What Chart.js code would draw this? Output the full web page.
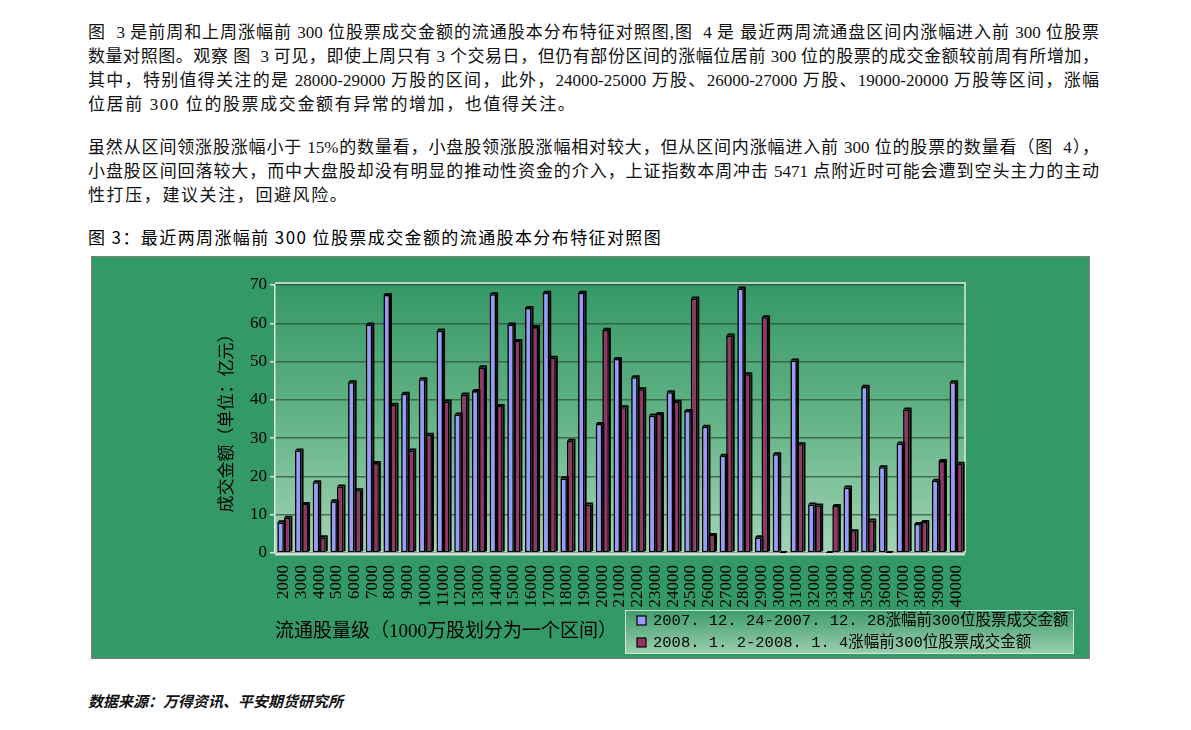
<!DOCTYPE html>
<html lang="zh-CN">
<head>
<meta charset="UTF-8">
<title>图3 流通股本分布特征对照图</title>
<script src="https://cdn.jsdelivr.net/npm/chart.js@4.4.0/dist/chart.umd.min.js"></script>
<style>
    body {
        margin: 0;
        background: #fff;
        width: 1191px;
        height: 730px;
        position: relative;
        overflow: hidden;
        color: #111;
    }
    .parrafo {
        position: absolute;
        left: 88px;
        width: 1011px;
        font-family: 'Liberation Serif', 'Noto Sans CJK SC', serif;
        font-size: 17px;
        line-height: 24px;
    }
    .parrafo div {
        text-align: justify;
        text-align-last: justify;
    }
    .parrafo div.ultima {
        text-align: left;
        text-align-last: left;
        letter-spacing: 1.6px;
    }
    #titulo {
        position: absolute;
        left: 88px;
        top: 225px;
        font-family: 'Noto Sans CJK SC', sans-serif;
        font-size: 17px;
        font-weight: 400;
        letter-spacing: 1.4px;
        line-height: 24px;
        color: #000;
    }
    #fuente {
        position: absolute;
        left: 88px;
        top: 691px;
        font-family: 'Noto Sans CJK SC', sans-serif;
        font-size: 15px;
        font-style: italic;
        font-weight: 600;
        line-height: 20px;
    }
    #contenedor {
        position: absolute;
        left: 91px;
        top: 256px;
    }
</style>
</head>
<body>
<div class="parrafo" style="top:21px">
    <div>图&nbsp; 3 是前周和上周涨幅前 300 位股票成交金额的流通股本分布特征对照图,图&nbsp; 4 是 最近两周流通盘区间内涨幅进入前 300 位股票</div>
    <div>数量对照图。观察 图&nbsp; 3 可见，即使上周只有 3 个交易日，但仍有部份区间的涨幅位居前 300 位的股票的成交金额较前周有所增加，</div>
    <div>其中，特别值得关注的是 28000-29000 万股的区间，此外，24000-25000 万股、26000-27000 万股、19000-20000 万股等区间，涨幅</div>
    <div class="ultima">位居前 300 位的股票成交金额有异常的增加，也值得关注。</div>
</div>
<div class="parrafo" style="top:136px">
    <div>虽然从区间领涨股涨幅小于 15%的数量看，小盘股领涨股涨幅相对较大，但从区间内涨幅进入前 300 位的股票的数量看（图&nbsp; 4），</div>
    <div>小盘股区间回落较大，而中大盘股却没有明显的推动性资金的介入，上证指数本周冲击 5471 点附近时可能会遭到空头主力的主动</div>
    <div class="ultima">性打压，建议关注，回避风险。</div>
</div>
<div id="titulo">图 3：最近两周涨幅前 300 位股票成交金额的流通股本分布特征对照图</div>
<div id="contenedor">
    <canvas id="grafico" width="999" height="403"></canvas>
</div>
<div id="fuente">数据来源：万得资讯、平安期货研究所</div>

<script>
// Datos del gráfico
const categorias = ['2000', '3000', '4000', '5000', '6000', '7000', '8000', '9000', '10000',
    '11000', '12000', '13000', '14000', '15000', '16000', '17000', '18000', '19000', '20000',
    '21000', '22000', '23000', '24000', '25000', '26000', '27000', '28000', '29000', '30000',
    '31000', '32000', '33000', '34000', '35000', '36000', '37000', '38000', '39000', '40000'];

const semanaAnterior = [8.0, 26.8, 18.5, 13.5, 44.6, 59.7, 67.4, 41.6, 45.4,
    58.1, 36.2, 42.3, 67.6, 59.7, 64.0, 68.0, 19.5, 68.0, 33.7,
    50.7, 45.9, 35.9, 42.0, 37.1, 33.0, 25.4, 69.1, 4.1, 25.8,
    50.3, 12.7, 0, 17.1, 43.4, 22.4, 28.6, 7.6, 18.9, 44.6];

const semanaActual = [9.2, 12.8, 4.1, 17.4, 16.4, 23.5, 38.7, 26.8, 30.9,
    39.6, 41.4, 48.5, 38.4, 55.4, 59.0, 51.0, 29.3, 12.7, 58.3,
    38.1, 42.8, 36.3, 39.5, 66.5, 4.7, 56.8, 46.7, 61.6, 0,
    28.4, 12.4, 12.3, 5.7, 8.5, 0, 37.5, 8.1, 24.0, 23.3];

const ticksY = [0, 10, 20, 30, 40, 50, 60, 70];

const nombresSeries = ['2007. 12. 24-2007. 12. 28涨幅前300位股票成交金额', '2008. 1. 2-2008. 1. 4涨幅前300位股票成交金额'];
const tituloX = '流通股量级（1000万股划分为一个区间）';
const tituloY = '成交金额（单位：亿元）';

const fuenteGrafico = "'Liberation Serif', 'Noto Sans CJK SC', serif";
const fuenteLeyenda = "'Liberation Mono', 'Noto Sans CJK SC', monospace";

// Fondo verde y pared del área de trazado
const fondoGrafico = {
    id: 'fondoGrafico',
    beforeDraw(chart) {
        const { ctx, chartArea: a, width, height } = chart;
        ctx.save();
        ctx.fillStyle = '#339966';
        ctx.fillRect(0, 0, width, height);
        ctx.strokeStyle = '#7f7f7f';
        ctx.lineWidth = 1;
        ctx.strokeRect(0.5, 0.5, width - 1, height - 1);

        const g = ctx.createLinearGradient(0, a.top, 0, a.bottom);
        g.addColorStop(0, '#369867');
        g.addColorStop(0.5, '#63b386');
        g.addColorStop(1, '#a2d4b6');
        ctx.fillStyle = g;
        ctx.fillRect(a.left, a.top - 2, a.right - a.left, a.bottom - a.top + 2);
        ctx.restore();
    },
    beforeDatasetsDraw(chart) {
        const { ctx, chartArea: a } = chart;
        ctx.save();
        // Borde claro de la pared (arriba y derecha)
        ctx.strokeStyle = '#dfe9e3';
        ctx.lineWidth = 1.5;
        ctx.beginPath();
        ctx.moveTo(a.left, a.top - 2);
        ctx.lineTo(a.right, a.top - 2);
        ctx.lineTo(a.right, a.bottom);
        ctx.stroke();
        // Suelo
        ctx.strokeStyle = '#d6dcd8';
        ctx.lineWidth = 3;
        ctx.beginPath();
        ctx.moveTo(a.left, a.bottom + 1);
        ctx.lineTo(a.right, a.bottom + 1);
        ctx.stroke();
        ctx.restore();
    }
};

// Efecto 3D simple: tapa y lateral oscuro en cada barra
const barras3D = {
    id: 'barras3D',
    afterDatasetsDraw(chart) {
        const { ctx } = chart;
        const d = 2;
        ctx.save();
        chart.data.datasets.forEach((ds, i) => {
            chart.getDatasetMeta(i).data.forEach(bar => {
                const izq = bar.x - bar.width / 2;
                const der = bar.x + bar.width / 2;
                ctx.fillStyle = '#000';
                // tapa
                ctx.beginPath();
                ctx.moveTo(izq, bar.y);
                ctx.lineTo(izq + d, bar.y - d);
                ctx.lineTo(der + d, bar.y - d);
                ctx.lineTo(der, bar.y);
                ctx.closePath();
                ctx.fill();
                // lateral
                ctx.beginPath();
                ctx.moveTo(der, bar.y);
                ctx.lineTo(der + d, bar.y - d);
                ctx.lineTo(der + d, bar.base - d);
                ctx.lineTo(der, bar.base);
                ctx.closePath();
                ctx.fill();
            });
        });
        ctx.restore();
    }
};

// Leyenda dibujada a mano en la esquina inferior derecha
const leyenda = {
    id: 'leyenda',
    afterDraw(chart) {
        const { ctx, width, height } = chart;
        const w = 449, h = 44;
        const x = width - 16 - w;
        const y = height - 5 - h;
        ctx.save();
        const g = ctx.createLinearGradient(0, y, 0, y + h);
        g.addColorStop(0, '#3d9b6b');
        g.addColorStop(1, '#9ccfb0');
        ctx.fillStyle = g;
        ctx.fillRect(x, y, w, h);
        ctx.strokeStyle = 'rgba(215, 235, 222, 0.9)';
        ctx.lineWidth = 1;
        ctx.strokeRect(x + 0.5, y + 0.5, w - 1, h - 1);

        ctx.font = '15.5px ' + fuenteLeyenda;
        ctx.textBaseline = 'middle';
        chart.data.datasets.forEach((ds, i) => {
            const cy = y + 11 + i * 22;
            ctx.fillStyle = ds.backgroundColor;
            ctx.fillRect(x + 12, cy - 5, 9, 9);
            ctx.strokeStyle = '#000';
            ctx.lineWidth = 1.2;
            ctx.strokeRect(x + 12, cy - 5, 9, 9);
            ctx.fillStyle = '#000';
            ctx.fillText(ds.label, x + 28, cy);
        });
        ctx.restore();
    }
};

// Inicializar gráfico
function inicializarGrafico() {
    const ctx = document.getElementById('grafico').getContext('2d');
    new Chart(ctx, {
        type: 'bar',
        data: {
            labels: categorias,
            datasets: [{
                label: nombresSeries[0],
                data: semanaAnterior,
                backgroundColor: '#9999ff',
                borderColor: '#000',
                borderWidth: 1.6,
                borderSkipped: false
            }, {
                label: nombresSeries[1],
                data: semanaActual,
                backgroundColor: '#993366',
                borderColor: '#000',
                borderWidth: 1.6,
                borderSkipped: false
            }]
        },
        options: {
            responsive: false,
            animation: false,
            categoryPercentage: 0.74,
            barPercentage: 1.0,
            layout: {
                padding: { left: 110, right: 125, top: 29, bottom: 0 }
            },
            plugins: {
                legend: { display: false },
                tooltip: { enabled: false }
            },
            scales: {
                x: {
                    grid: { display: false },
                    border: { display: false },
                    ticks: {
                        autoSkip: false,
                        minRotation: 90,
                        maxRotation: 90,
                        padding: 4,
                        color: '#000',
                        font: { family: fuenteGrafico, size: 17 }
                    },
                    title: {
                        display: true,
                        text: tituloX,
                        align: 'start',
                        color: '#000',
                        font: { family: fuenteGrafico, size: 19 },
                        padding: { top: 0, bottom: 16 }
                    },
                    afterFit(scale) {
                        scale.height = 106;
                    }
                },
                y: {
                    min: 0,
                    max: 70,
                    afterBuildTicks(scale) {
                        scale.ticks = ticksY.map(v => ({ value: v }));
                    },
                    ticks: {
                        padding: 3,
                        color: '#000',
                        font: { family: fuenteGrafico, size: 17 }
                    },
                    grid: {
                        color: 'rgba(45, 80, 58, 0.75)',
                        tickColor: '#d8e4dc',
                        tickLength: 5,
                        lineWidth: 1.5
                    },
                    border: { color: '#dfe9e3', width: 1.5 },
                    title: {
                        display: true,
                        text: tituloY,
                        color: '#000',
                        font: { family: fuenteGrafico, size: 17 },
                        padding: { top: 16, bottom: 0 }
                    },
                    afterFit(scale) {
                        scale.width = 74;
                    }
                }
            }
        },
        plugins: [fondoGrafico, barras3D, leyenda]
    });
}

document.addEventListener('DOMContentLoaded', inicializarGrafico);
</script>
</body>
</html>
